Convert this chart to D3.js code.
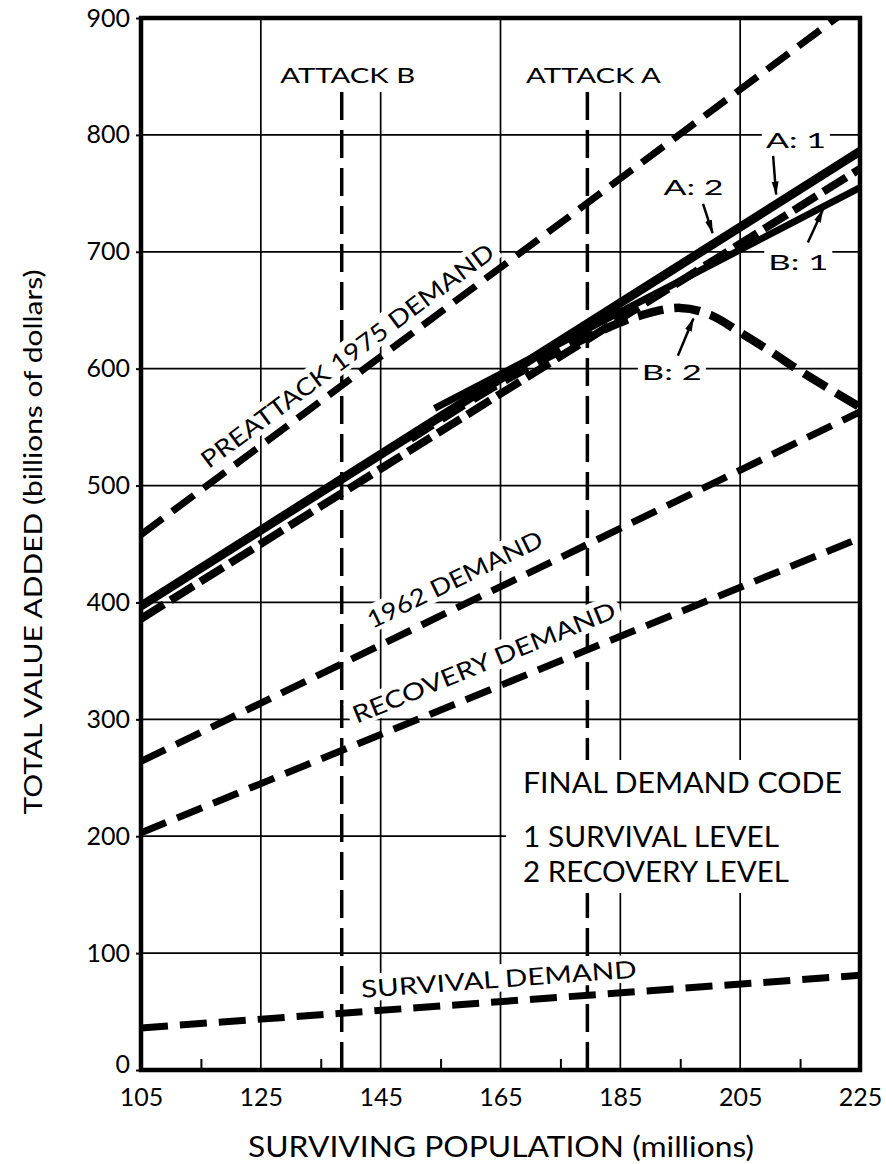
<!DOCTYPE html>
<meta charset="utf-8">
<style>
body { margin: 0; background: #fff; }
svg text { font-family: Lato, "Noto Sans", sans-serif; fill: #000; }
.grid line { stroke: #000; stroke-width: 1.7px; }
.axis path { display: none; }
.axis line { stroke: #000; stroke-width: 2px; }
</style>
<svg width="886" height="1164"></svg>
<script src="https://cdn.jsdelivr.net/npm/d3@7"></script>
<script>

// axis ticks
var xTicks = [105, 125, 145, 165, 185, 205, 225];
var xMinor = [115, 135, 155, 175, 195, 215];
var yTicks = [0, 100, 200, 300, 400, 500, 600, 700, 800, 900];

// demand lines: [surviving population (millions), value added (billions $)]
var preattackDemand = [[105, 458], [225, 915]];
var demand1962 = [[105, 264], [225, 563]];
var recoveryDemand = [[105, 203], [225, 455]];
var survivalDemand = [[105, 36], [225, 81]];

// total value added, attack A / B, final demand code 1 (survival) / 2 (recovery)
var attackA1 = [[105, 397], [225, 786]];
var attackA2 = [[105, 386], [225, 771]];
var attackB1 = [[154, 566], [225, 755]];
var attackB2 = [[150, 540], [165, 588], [180, 628], [188, 645], [195, 652], [200, 646],
                [205, 631], [210, 615], [215, 598], [225, 567]];

// surviving population after each attack
var attacks = [{ name: "ATTACK B", pop: 138.5 }, { name: "ATTACK A", pop: 179.5 }];

// curve labels with arrows: label centre and arrow from -> to (data units)
var callouts = [
  { text: "A:  1", at: [214.3, 795], from: [210.5, 782], to: [211.0, 749] },
  { text: "A:  2", at: [197.2, 755], from: [198.8, 741], to: [200.4, 716] },
  { text: "B:  1", at: [214.7, 691], from: [216.3, 708], to: [218.8, 736] },
  { text: "B:  2", at: [193.6, 597], from: [194.6, 611], to: [197.2, 643] }
];

var legendLines = ["FINAL DEMAND CODE", "1 SURVIVAL LEVEL", "2 RECOVERY LEVEL"];

var svg = d3.select("svg");

var x = d3.scaleLinear().domain([105, 225]).range([141, 860]);
var y = d3.scaleLinear().domain([0, 900]).range([1070, 18]);

svg.append("defs").append("clipPath").attr("id", "plot")
  .append("rect")
    .attr("x", x(105)).attr("y", y(900))
    .attr("width", x(225) - x(105)).attr("height", y(0) - y(900));

svg.append("defs").append("marker")
    .attr("id", "head")
    .attr("markerUnits", "userSpaceOnUse")
    .attr("viewBox", "0 0 14 8")
    .attr("refX", 13).attr("refY", 4)
    .attr("markerWidth", 14).attr("markerHeight", 8)
    .attr("orient", "auto")
  .append("path")
    .attr("d", "M0,0.5 L14,4 L0,7.5 z")
    .attr("fill", "#000");

// grid
var grid = svg.append("g").attr("class", "grid");
grid.selectAll(".v").data(xTicks.slice(1, -1)).enter().append("line")
    .attr("x1", function(d) { return x(d); }).attr("x2", function(d) { return x(d); })
    .attr("y1", y(0)).attr("y2", y(900));
grid.selectAll(".h").data(yTicks.slice(1, -1)).enter().append("line")
    .attr("x1", x(105)).attr("x2", x(225))
    .attr("y1", function(d) { return y(d); }).attr("y2", function(d) { return y(d); });

// attack markers
svg.append("g").selectAll("line").data(attacks).enter().append("line")
    .attr("x1", function(d) { return x(d.pop); }).attr("x2", function(d) { return x(d.pop); })
    .attr("y1", y(0)).attr("y2", y(900))
    .attr("stroke", "#000").attr("stroke-width", 3.5)
    .attr("stroke-dasharray", "28 10");

var boxLayer = svg.append("g");
var lineLayer = svg.append("g").attr("clip-path", "url(#plot)");
var textLayer = svg.append("g");

function addText(str, cx, cy, angle, len, size, anchor) {
  var g = textLayer.append("g")
      .attr("transform", "translate(" + cx + "," + cy + ") rotate(" + angle + ")");
  var t = g.append("text")
      .attr("text-anchor", anchor || "middle")
      .attr("font-size", size)
      .attr("textLength", len)
      .attr("lengthAdjust", "spacingAndGlyphs")
      .text(str);
  return t;
}

function addBox(cx, cy, angle, x0, y0, w, h) {
  boxLayer.append("rect")
      .attr("transform", "translate(" + cx + "," + cy + ") rotate(" + angle + ")")
      .attr("x", x0).attr("y", y0).attr("width", w).attr("height", h)
      .attr("fill", "#fff");
}

// labels written along the straight demand lines
function lineLabel(pts, str, xc, off, len, size) {
  var p0 = pts[0], p1 = pts[pts.length - 1];
  var angle = Math.atan2(y(p1[1]) - y(p0[1]), x(p1[0]) - x(p0[0])) * 180 / Math.PI;
  var v = d3.scaleLinear().domain([p0[0], p1[0]]).range([p0[1], p1[1]])(xc);
  var cx = x(xc), cy = y(v);
  var cap = size * 0.72;
  addBox(cx, cy, angle, -len / 2 - 5, -off - cap - 6, len + 10, cap + 10);
  addText(str, cx, cy, angle, len, size).attr("y", -off);
}

lineLabel(preattackDemand, "PREATTACK 1975 DEMAND", 141.5, 12, 358, 24);
lineLabel(demand1962, "1962 DEMAND", 159.3, 18, 192, 24);
lineLabel(recoveryDemand, "RECOVERY DEMAND", 164, 19, 282, 24);
lineLabel(survivalDemand, "SURVIVAL DEMAND", 165, 14, 276, 24);

// attack labels, box runs from the frame down to the top of the marker
attacks.forEach(function(d) {
  addBox(x(d.pop), 0, 0, -72, y(900), 144, 92 - y(900));
  addText(d.name, x(d.pop) + 6, 83, 0, 135, 22);
});

// legend
var lx = 523;
[793, 847, 882].forEach(function(by, i) {
  addText(legendLines[i], lx, by, 0, [319, 256, 266][i], 28, "start");
});
boxLayer.append("rect")
    .attr("x", 506).attr("y", 760).attr("width", x(225) - 506).attr("height", 133)
    .attr("fill", "#fff");

// callouts
callouts.forEach(function(d) {
  var cx = x(d.at[0]), cy = y(d.at[1]);
  addBox(cx, cy, 0, -34, -12, 68, 24);
  addText(d.text, cx, cy + 7.5, 0, 60, 21);
  textLayer.append("line")
      .attr("x1", x(d.from[0])).attr("y1", y(d.from[1]))
      .attr("x2", x(d.to[0])).attr("y2", y(d.to[1]))
      .attr("stroke", "#000").attr("stroke-width", 2.5)
      .attr("marker-end", "url(#head)");
});

// curves
var line = d3.line().x(function(d) { return x(d[0]); }).y(function(d) { return y(d[1]); });
var curved = d3.line().curve(d3.curveCatmullRom)
    .x(function(d) { return x(d[0]); }).y(function(d) { return y(d[1]); });

var demandStyle = { width: 7, dash: "27 12" };
[preattackDemand, demand1962, recoveryDemand, survivalDemand].forEach(function(pts) {
  lineLayer.append("path").attr("d", line(pts))
      .attr("fill", "none").attr("stroke", "#000")
      .attr("stroke-width", demandStyle.width)
      .attr("stroke-dasharray", demandStyle.dash);
});

lineLayer.append("path").attr("d", line(attackA2))
    .attr("fill", "none").attr("stroke", "#000")
    .attr("stroke-width", 8).attr("stroke-dasharray", "27 8");
lineLayer.append("path").attr("d", curved(attackB2))
    .attr("fill", "none").attr("stroke", "#000")
    .attr("stroke-width", 8.5).attr("stroke-dasharray", "26 11");
lineLayer.append("path").attr("d", line(attackB1))
    .attr("fill", "none").attr("stroke", "#000").attr("stroke-width", 7);
lineLayer.append("path").attr("d", line(attackA1))
    .attr("fill", "none").attr("stroke", "#000").attr("stroke-width", 9);

// axes
var yAxis = svg.append("g").attr("class", "axis")
    .attr("transform", "translate(" + x(105) + ",0)")
    .call(d3.axisLeft(y).tickValues(yTicks).tickSize(5).tickPadding(6));
yAxis.selectAll("text").attr("font-size", 25).attr("fill", "#000");
// the zero label sits a little above the axis so it clears the 105 below it
yAxis.selectAll(".tick").filter(function(d) { return d === 0; })
    .select("text").attr("y", -6);

var xAxis = svg.append("g").attr("class", "axis")
    .attr("transform", "translate(0," + y(0) + ")")
    .call(d3.axisBottom(x).tickValues(xTicks).tickSize(0).tickPadding(18));
xAxis.selectAll("text").attr("font-size", 25).attr("fill", "#000");

svg.append("g").attr("class", "axis")
    .attr("transform", "translate(0," + y(0) + ")")
    .call(d3.axisBottom(x).tickValues(xMinor).tickSize(-11).tickFormat(""));

// frame
svg.append("rect")
    .attr("x", x(105)).attr("y", y(900))
    .attr("width", x(225) - x(105)).attr("height", y(0) - y(900))
    .attr("fill", "none").attr("stroke", "#000").attr("stroke-width", 4.5);

// axis titles
svg.append("text")
    .attr("transform", "translate(42,542) rotate(-90)")
    .attr("text-anchor", "middle").attr("font-size", 25)
    .attr("textLength", 545).attr("lengthAdjust", "spacingAndGlyphs")
    .text("TOTAL VALUE ADDED (billions of dollars)");

svg.append("text")
    .attr("x", 501).attr("y", 1157)
    .attr("text-anchor", "middle").attr("font-size", 28)
    .attr("textLength", 506).attr("lengthAdjust", "spacingAndGlyphs")
    .text("SURVIVING POPULATION (millions)");

</script>
